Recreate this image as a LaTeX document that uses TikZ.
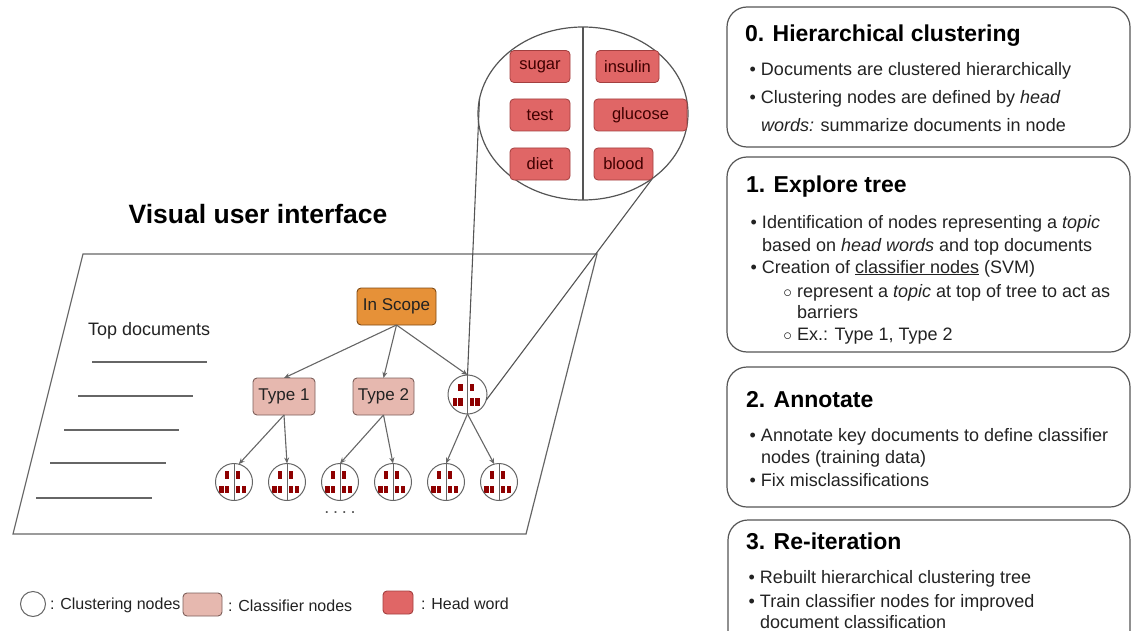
\documentclass[tikz,border=0pt]{standalone}
\usepackage{fontspec}
\setmainfont{Liberation Sans}
\usetikzlibrary{arrows.meta,shapes.geometric}
\definecolor{lgray}{HTML}{666666}
\definecolor{dgray}{HTML}{555555}
\definecolor{orangeF}{HTML}{E69138}
\definecolor{orangeD}{HTML}{7F4A14}
\definecolor{pinkF}{HTML}{E6B8AF}
\definecolor{pinkD}{HTML}{7D5F5A}
\definecolor{redF}{HTML}{E06666}
\definecolor{redD}{HTML}{A33F3F}
\definecolor{hwdark}{HTML}{8E0000}
\definecolor{txt}{HTML}{222222}
\newcommand\fsz[1]{\fontsize{#1}{#1}\selectfont}
\begin{document}
\begin{tikzpicture}[x=1pt,y=-1pt,
  every node/.style={inner sep=0pt, outer sep=0pt, text=txt},
  box/.style={draw, rounded corners=4pt, line width=0.9pt, minimum height=37pt, font=\fsz{17}},
  scopebox/.style={box, fill=orangeF, draw=orangeD},
  classbox/.style={box, fill=pinkF, draw=pinkD},
  hwbox/.style={draw=redD, fill=redF, rounded corners=4pt, line width=0.8pt, minimum height=32pt, font=\fsz{16.5}, text=black!75!red},
  clus/.style={circle, draw=lgray, fill=white, line width=1pt, minimum size=#1,
    path picture={
      \draw[lgray, line width=0.9pt] (path picture bounding box.north) -- (path picture bounding box.south);
      \foreach \a/\b in {-9.2/3.2, 2/3.2, -14.8/-11.2, -9.2/-11.2, 2/-11.2, 7.6/-11.2}
        \fill[hwdark] ([xshift=\a pt, yshift=\b pt]path picture bounding box.center) rectangle ++(4.4pt,7.6pt);
    }},
  link/.style={draw=lgray, line width=1.1pt, -{Stealth[length=6pt,width=5pt]}},
  zline/.style={draw=dgray, line width=1.1pt},
  panel/.style={draw=dgray, line width=1.2pt, rounded corners=20pt},
  ptitle/.style={anchor=base west, font=\fsz{23}\bfseries, text=black},
  pline/.style={anchor=base west, font=\fsz{18}},
  doc/.style={draw=lgray, line width=2.4pt},
  legtxt/.style={anchor=west, font=\fsz{16}}
]
\useasboundingbox (0,0) rectangle (1131,631);

% ---------- right panels ----------
\draw[panel] (727,7) rectangle (1130,147);
\draw[panel] (727,157) rectangle (1130,352);
\draw[panel] (727,367) rectangle (1130,507);
\draw[panel] (728,520) rectangle (1130,660);

\node[ptitle] (t0) at (745,42) {0. Hierarchical clustering};
\node[pline] (l0a) at (761,76) {\llap{\textbullet\hspace{5pt}}Documents are clustered hierarchically};
\node[pline] (l0b) at (761,104) {\llap{\textbullet\hspace{5pt}}Clustering nodes are defined by \textit{head}};
\node[pline] (l0c) at (761,132) {\textit{words:} summarize documents in node};

\node[ptitle] (t1) at (746,192) {1. Explore tree};
\node[pline] (l1a) at (762,228) {\llap{\textbullet\hspace{5pt}}Identification of nodes representing a \textit{topic}};
\node[pline] (l1b) at (762,251) {based on \textit{head words} and top documents};
\node[pline] (l1c) at (762,273) {\llap{\textbullet\hspace{5pt}}Creation of \underline{classifier nodes} (SVM)};
\node[pline] (l1d) at (797,297) {\llap{$\circ$\hspace{5pt}}represent a \textit{topic} at top of tree to act as};
\node[pline] (l1e) at (797,318) {barriers};
\node[pline] (l1f) at (797,340) {\llap{$\circ$\hspace{5pt}}Ex.: Type 1, Type 2};

\node[ptitle] (t2) at (746,407) {2. Annotate};
\node[pline] (l2a) at (761,441) {\llap{\textbullet\hspace{5pt}}Annotate key documents to define classifier};
\node[pline] (l2b) at (761,463) {nodes (training data)};
\node[pline] (l2c) at (761,486) {\llap{\textbullet\hspace{5pt}}Fix misclassifications};

\node[ptitle] (t3) at (746,549) {3. Re-iteration};
\node[pline] (l3a) at (760,583) {\llap{\textbullet\hspace{5pt}}Rebuilt hierarchical clustering tree};
\node[pline] (l3b) at (760,607) {\llap{\textbullet\hspace{5pt}}Train classifier nodes for improved};
\node[pline] (l3c) at (760,628) {document classification};

% ---------- left: interface ----------
\node[anchor=base, font=\fsz{26.5}\bfseries, text=black] (vui) at (258,223) {Visual user interface};

\draw[zline, line width=1.2pt, draw=lgray] (83,254) -- (597,254) -- (526,534) -- (13,534) -- cycle;

\node[anchor=base west, font=\fsz{18}] (topdoc) at (88,335) {Top documents};
\draw[doc] (92,362) -- (207,362);
\draw[doc] (78,396) -- (193,396);
\draw[doc] (64,430) -- (179,430);
\draw[doc] (50,463) -- (166,463);
\draw[doc] (36,498) -- (152,498);

% tree
\node[scopebox, minimum width=79pt] (scope) at (396.5,306.5) {In Scope};
\node[classbox, minimum width=62pt] (ty1) at (284,396.5) {Type 1};
\node[classbox, minimum width=61pt] (ty2) at (383.5,396.5) {Type 2};
\node[clus=39pt] (mc) at (467.5,394.5) {};
\foreach \n/\x in {c1/234, c2/287, c3/340, c4/393, c5/446, c6/499}
  \node[clus=37pt] (\n) at (\x,482) {};

\draw[link] (scope.south) -- (ty1.north);
\draw[link] (scope.south) -- (ty2.north);
\draw[link] (scope.south) -- (mc.north);
\draw[link] (ty1.south) -- (c1.75);
\draw[link] (ty1.south) -- (c2.north);
\draw[link] (ty2.south) -- (c3.north);
\draw[link] (ty2.south) -- (c4.north);
\draw[link] (mc.south) -- (c5.north);
\draw[link] (mc.south) -- (c6.105);

\node[font=\fsz{18}, text=dgray] (dots) at (340,513) {.\hspace{3.8pt}.\hspace{3.8pt}.\hspace{3.8pt}.};

% zoomed head words
\node[ellipse, draw=dgray, line width=1.2pt, fill=white, minimum width=210pt, minimum height=173pt] (zoom) at (583,113.5) {};
\draw[zline] (zoom.north) -- (zoom.south);
\node[hwbox, minimum width=60pt] (hw1) at (540,66.5) {sugar};
\node[hwbox, minimum width=60pt] (hw2) at (540,115) {test};
\node[hwbox, minimum width=60pt] (hw3) at (540,164) {diet};
\node[hwbox, minimum width=63pt] (hw4) at (627.5,66.5) {insulin};
\node[hwbox, minimum width=93pt] (hw5) at (640.5,115) {glucose};
\node[hwbox, minimum width=59pt] (hw6) at (623.5,164) {blood};

\draw[zline] (zoom.172.7) -- (mc.north);
\draw[zline] (zoom.-43.9) -- (mc.-17);

% ---------- legend ----------
\node[circle, draw=lgray, line width=1pt, minimum size=25pt] (legc) at (33,604) {};
\node[legtxt] (legct) at (50,605) {: Clustering nodes};
\node[draw=pinkD, fill=pinkF, rounded corners=4pt, line width=0.9pt, minimum width=39pt, minimum height=23pt] (legp) at (202.5,604.5) {};
\node[legtxt] (legpt) at (228,606) {: Classifier nodes};
\node[draw=redD, fill=redF, rounded corners=4pt, line width=0.9pt, minimum width=30pt, minimum height=23pt] (legr) at (398,602.5) {};
\node[legtxt] (legrt) at (421,604) {: Head word};
\end{tikzpicture}
\end{document}
